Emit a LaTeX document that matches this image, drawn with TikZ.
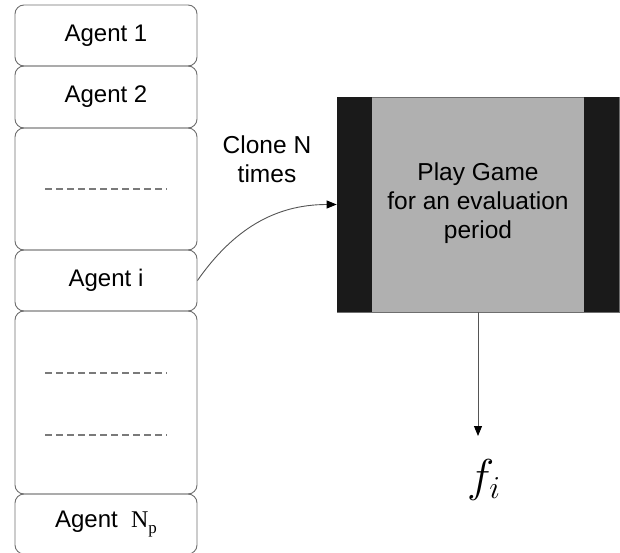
\documentclass[tikz,border=0pt]{standalone}
\usepackage{fontspec}
\setmainfont{Liberation Sans}
\newfontfamily\tnr{Liberation Serif}
\usetikzlibrary{arrows.meta}
\definecolor{boxgray}{HTML}{6E6E6E}
\definecolor{gamegray}{HTML}{B0B0B0}
\definecolor{strip}{HTML}{1A1A1A}
\definecolor{dashgray}{HTML}{7A7A7A}
\begin{document}
\begin{tikzpicture}[x=1pt,y=-1pt,
  agent/.style={draw=boxgray, line width=0.9pt, rounded corners=9pt, minimum width=182pt, inner sep=0pt, font=\fontsize{24}{28}\selectfont},
  dashline/.style={draw=dashgray, line width=1.3pt, dash pattern=on 7pt off 4pt},
  conn/.style={draw=dashgray!70!black, line width=0.9pt, -{Triangle[length=10pt,width=8pt,color=black,fill=black]}},
  lbl/.style={font=\fontsize{24.5}{29}\selectfont, align=center, inner sep=0pt}]
\useasboundingbox (0,0) rectangle (620,553);
\clip (0,0) rectangle (620,553);
% left column
\node[agent, minimum height=61pt] (a1) at (106,35.5) {Agent 1};
\node[agent, minimum height=62pt] (a2) at (106,97) {Agent 2};
\node[agent, minimum height=122pt] (d1) at (106,189) {};
\node[agent, minimum height=61pt] (ai) at (106,280.5) {Agent i};
\node[agent, minimum height=183pt] (d2) at (106,402.5) {};
\node[agent, minimum height=60pt] (an) at (106,524) {Agent\ \ {\tnr N\raisebox{-6pt}{\fontsize{17}{17}\selectfont p}}};
\coordinate (d1a) at (45,189); \coordinate (d1b) at (167,189);
\coordinate (d2a) at (45,373); \coordinate (d2b) at (167,373);
\coordinate (d3a) at (45,435); \coordinate (d3b) at (167,435);
\draw[dashline] (d1a) -- (d1b);
\draw[dashline] (d2a) -- (d2b);
\draw[dashline] (d3a) -- (d3b);
% game box
\node[draw=boxgray, fill=gamegray, line width=0.7pt, minimum width=282pt, minimum height=215pt, inner sep=0pt] (game) at (478,204.5) {};
\fill[strip] (game.north west) rectangle ++(35,215);
\fill[strip] (game.north east) rectangle ++(-35,215);
\node[lbl] (gtext) at (478,203) {Play Game\\for an evaluation\\period};
% clone label
\node[lbl] (clone) at (267,159) {Clone N\\times};
% connectors
\draw[conn] (ai.east) to[out=55,in=180] (game.west);
\coordinate (fend) at (478,436);
\draw[conn] (game.south) -- (fend);
\node (fi) at (484,480) {\scalebox{1.85}{\fontsize{24}{24}\selectfont $f_i$}};
\end{tikzpicture}
\end{document}
